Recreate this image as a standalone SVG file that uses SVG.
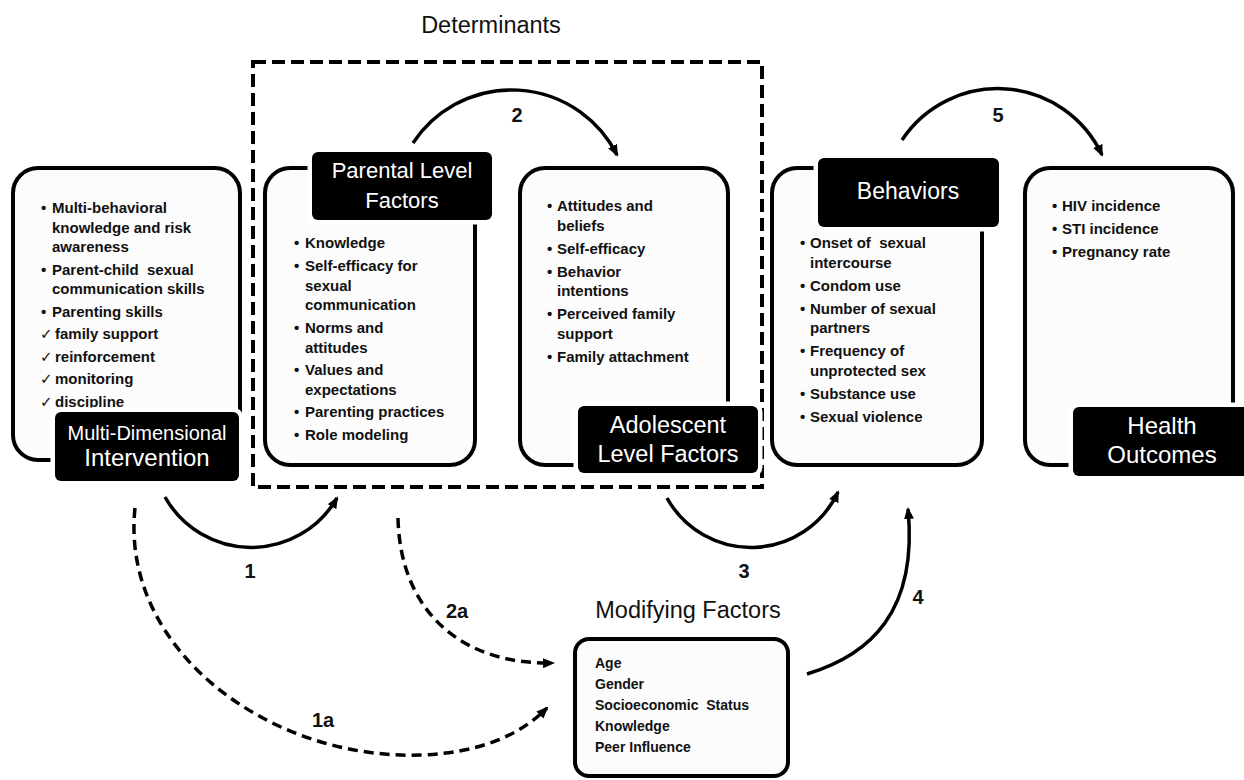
<svg xmlns="http://www.w3.org/2000/svg" width="1244" height="780" viewBox="0 0 1244 780">
<defs>
<style>
.box{fill:#fcfcfc;stroke:#000;stroke-width:4}
.lbl{fill:#000;stroke:#fff;stroke-width:9;paint-order:stroke}
.lt{font-family:"Liberation Sans",Arial,sans-serif;fill:#fff;text-anchor:middle}
.it{font-family:"Liberation Sans",Arial,sans-serif;font-weight:bold;font-size:15px;fill:#111}
.mf{font-family:"Liberation Sans",Arial,sans-serif;font-weight:bold;font-size:14px;fill:#111}
.pre{white-space:pre}
.ck{font-family:"DejaVu Sans",sans-serif;font-size:15px;fill:#111}
.num{font-family:"Liberation Sans",Arial,sans-serif;font-weight:bold;font-size:20px;fill:#111;text-anchor:middle}
.ttl{font-family:"Liberation Sans",Arial,sans-serif;font-size:23.5px;fill:#111;text-anchor:middle}
.arr{fill:none;stroke:#000;stroke-width:3.5}
.dsh{fill:none;stroke:#000;stroke-width:3.5;stroke-dasharray:10 6}
</style>
<marker id="ah" viewBox="0 0 12 10" refX="10" refY="5" markerWidth="12" markerHeight="10" markerUnits="userSpaceOnUse" orient="auto">
<path d="M0,0 L12,5 L0,10 z" fill="#000"/>
</marker>
</defs>
<rect width="1244" height="780" fill="#fff"/>

<g id="determinants">
<rect x="253" y="62" width="509" height="425" fill="none" stroke="#000" stroke-width="4" stroke-dasharray="13 6"/>
<text class="ttl" x="491" y="33">Determinants</text>
</g>

<g id="connectors">
<path class="arr" d="M413,143 A118,118 0 0 1 617,155" marker-end="url(#ah)"/>
<path class="arr" d="M902,140 A115,115 0 0 1 1102,155" marker-end="url(#ah)"/>
<path class="arr" d="M165,497 A99,99 0 0 0 337,498" marker-end="url(#ah)"/>
<path class="arr" d="M667,498 A96,96 0 0 0 838,492" marker-end="url(#ah)"/>
<path class="arr" d="M807,674 C870,655 918,612 908,509" marker-end="url(#ah)"/>
<path class="dsh" d="M135,508 C120,650 270,760 420,755 C480,753 520,735 547,708" marker-end="url(#ah)"/>
<path class="dsh" d="M398,518 C400,610 460,665 553,663" marker-end="url(#ah)"/>
<text class="num" x="250" y="578">1</text>
<text class="num" x="517" y="122">2</text>
<text class="num" x="744" y="578">3</text>
<text class="num" x="918" y="604">4</text>
<text class="num" x="998" y="122">5</text>
<text class="num" x="457" y="618">2a</text>
<text class="num" x="323" y="727">1a</text>
</g>

<g id="intervention">
<rect class="box" x="13" y="168" width="227" height="292" rx="25"/>
<text class="it">
<tspan x="41" y="213">•</tspan><tspan x="52" y="213">Multi-behavioral</tspan>
<tspan x="52" y="232.5">knowledge and risk</tspan>
<tspan x="52" y="252">awareness</tspan>
<tspan x="41" y="274.5">•</tspan><tspan class="pre" x="52" y="274.5">Parent-child  sexual</tspan>
<tspan x="52" y="294">communication skills</tspan>
<tspan x="41" y="316.5">•</tspan><tspan x="52" y="316.5">Parenting skills</tspan>
<tspan x="55" y="339">family support</tspan>
<tspan x="55" y="361.5">reinforcement</tspan>
<tspan x="55" y="384">monitoring</tspan>
<tspan x="55" y="406.5">discipline</tspan>
</text>
<text class="ck"><tspan x="40" y="339">✓</tspan><tspan x="40" y="361.5">✓</tspan><tspan x="40" y="384">✓</tspan><tspan x="40" y="406.5">✓</tspan></text>
<rect class="lbl" x="55" y="412" width="184" height="69" rx="6"/>
<text class="lt" x="147" y="440" font-size="20">Multi-Dimensional</text>
<text class="lt" x="147" y="466" font-size="24">Intervention</text>
</g>

<g id="parental">
<rect class="box" x="265" y="168" width="210" height="297" rx="25"/>
<text class="it">
<tspan x="294" y="248">•</tspan><tspan x="305" y="248">Knowledge</tspan>
<tspan x="294" y="271">•</tspan><tspan x="305" y="271">Self-efficacy for</tspan>
<tspan x="305" y="290.5">sexual</tspan>
<tspan x="305" y="310">communication</tspan>
<tspan x="294" y="333">•</tspan><tspan x="305" y="333">Norms and</tspan>
<tspan x="305" y="352.5">attitudes</tspan>
<tspan x="294" y="375">•</tspan><tspan x="305" y="375">Values and</tspan>
<tspan x="305" y="394.5">expectations</tspan>
<tspan x="294" y="417">•</tspan><tspan x="305" y="417">Parenting practices</tspan>
<tspan x="294" y="440">•</tspan><tspan x="305" y="440">Role modeling</tspan>
</text>
<rect class="lbl" x="312" y="152" width="180" height="68" rx="6"/>
<text class="lt" x="402" y="178" font-size="22">Parental Level</text>
<text class="lt" x="402" y="208" font-size="22">Factors</text>
</g>

<g id="adolescent">
<rect class="box" x="520" y="168" width="208" height="297" rx="25"/>
<text class="it">
<tspan x="547" y="211">•</tspan><tspan x="557" y="211">Attitudes and</tspan>
<tspan x="557" y="230.5">beliefs</tspan>
<tspan x="547" y="253.5">•</tspan><tspan x="557" y="253.5">Self-efficacy</tspan>
<tspan x="547" y="276.5">•</tspan><tspan x="557" y="276.5">Behavior</tspan>
<tspan x="557" y="296">intentions</tspan>
<tspan x="547" y="319">•</tspan><tspan x="557" y="319">Perceived family</tspan>
<tspan x="557" y="338.5">support</tspan>
<tspan x="547" y="361.5">•</tspan><tspan x="557" y="361.5">Family attachment</tspan>
</text>
<rect class="lbl" x="578" y="406" width="180" height="67" rx="6"/>
<text class="lt" x="668" y="433" font-size="23.5">Adolescent</text>
<text class="lt" x="668" y="462" font-size="23.5">Level Factors</text>
</g>

<g id="behaviors">
<rect class="box" x="772" y="168" width="210" height="297" rx="25"/>
<text class="it">
<tspan x="800" y="248">•</tspan><tspan class="pre" x="810" y="248">Onset of  sexual</tspan>
<tspan x="810" y="267.5">intercourse</tspan>
<tspan x="800" y="290.5">•</tspan><tspan x="810" y="290.5">Condom use</tspan>
<tspan x="800" y="313.5">•</tspan><tspan x="810" y="313.5">Number of sexual</tspan>
<tspan x="810" y="333">partners</tspan>
<tspan x="800" y="356">•</tspan><tspan x="810" y="356">Frequency of</tspan>
<tspan x="810" y="375.5">unprotected sex</tspan>
<tspan x="800" y="398.5">•</tspan><tspan x="810" y="398.5">Substance use</tspan>
<tspan x="800" y="421.5">•</tspan><tspan x="810" y="421.5">Sexual violence</tspan>
</text>
<rect class="lbl" x="818" y="158" width="181" height="69" rx="6"/>
<text class="lt" x="908" y="199" font-size="23">Behaviors</text>
</g>

<g id="health">
<rect class="box" x="1025" y="168" width="208" height="297" rx="25"/>
<text class="it">
<tspan x="1052" y="211">•</tspan><tspan x="1062" y="211">HIV incidence</tspan>
<tspan x="1052" y="234">•</tspan><tspan x="1062" y="234">STI incidence</tspan>
<tspan x="1052" y="257">•</tspan><tspan x="1062" y="257">Pregnancy rate</tspan>
</text>
<rect class="lbl" x="1073" y="407" width="176" height="69" rx="6"/>
<text class="lt" x="1162" y="434" font-size="24">Health</text>
<text class="lt" x="1162" y="463" font-size="24">Outcomes</text>
</g>

<g id="modifying">
<text class="ttl" x="688" y="618">Modifying Factors</text>
<rect class="box" x="575" y="639" width="213" height="137" rx="14"/>
<text class="mf">
<tspan x="595" y="668">Age</tspan>
<tspan x="595" y="689">Gender</tspan>
<tspan class="pre" x="595" y="710">Socioeconomic  Status</tspan>
<tspan x="595" y="731">Knowledge</tspan>
<tspan x="595" y="752">Peer Influence</tspan>
</text>
</g>
</svg>
